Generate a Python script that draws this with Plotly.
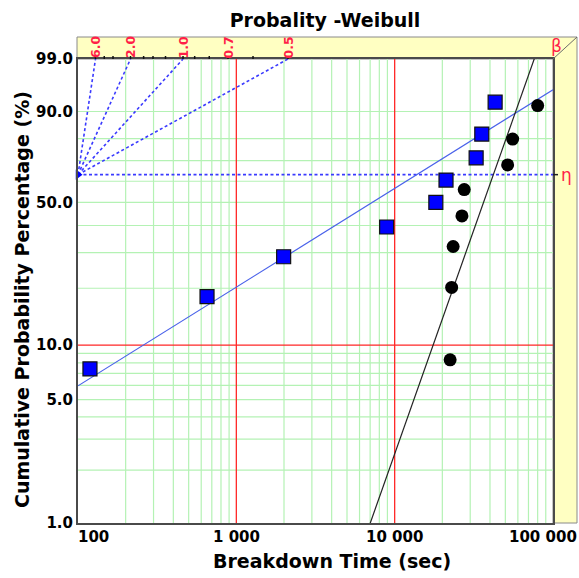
import numpy as np
import plotly.graph_objects as go

# ---------------- data ----------------
blue_time = [119, 653, 1990, 8900, 18200, 21100, 32700, 35500, 43100]
blue_pct = [7.4, 18.1, 28.7, 39.4, 50.0, 60.6, 71.3, 81.9, 92.6]

black_time = [22400, 22900, 23400, 26600, 27500, 51700, 55600, 80000]
black_pct = [8.3, 20.2, 32.1, 44.0, 56.0, 67.9, 79.8, 91.7]

blue_eta, blue_beta = 13800, 0.566
black_eta, black_beta = 42000, 2.57

beta_lines = [6.0, 2.0, 1.0, 0.5]
beta_labels = [6.0, 2.0, 1.0, 0.7, 0.5]
beta_ticks = [6.0, 4.0, 3.0, 2.0, 1.6, 1.4, 1.2, 1.0, 0.9, 0.8, 0.7, 0.6, 0.5]

y_tick_pct = [1, 5, 10, 50, 90, 99]
y_tick_text = ["1.0", "5.0", "10.0", "50.0", "90.0", "99.0"]
y_grid_pct = [2, 3, 4, 5, 6, 7, 8, 9, 20, 30, 40, 50, 60, 70, 80, 90]
y_red_pct = [10]

x_tick_vals = [100, 1000, 10000, 100000]
x_tick_text = ["100", "1 000", "10 000", "100 000"]
x_red = [1000, 10000]
x_grid_mult = [2, 3, 4, 5, 6, 7, 8, 9]
x_decades = [100, 1000, 10000]

title_text = "Probality -Weibull"
x_title = "Breakdown Time (sec)"
y_title = "Cumulative Probability Percentage (%)"

# ---------------- helpers ----------------
def wt(p):
    p = np.asarray(p, dtype=float) / 100.0
    return np.log(-np.log(1.0 - p))

W = 579
H = 578
ML, MR, MT, MB = 78, 26, 59, 55
PW = W - ML - MR
PH = H - MT - MB

def px_x(px):
    return (px - ML) / PW

def px_y(py):
    return (H - MB - py) / PH

ymin, ymax = float(wt(1)), float(wt(99))
xmin, xmax = x_tick_vals[0], x_tick_vals[-1]
lxmin, lxmax = np.log10(xmin), np.log10(xmax)

def paper_from_t(t):
    return (np.log10(t) - lxmin) / (lxmax - lxmin)

FONT = "DejaVu Sans"
GREEN = "#b4f2b4"
RED = "#ff2626"
BLUE_D = "#3a3aff"
DASH = "3px,2.5px"
LABEL_RED = "#ff1f48"

fig = go.Figure()

# vertical green grid lines
gx, gy = [], []
for d in x_decades:
    for m in x_grid_mult:
        gx += [d * m, d * m, None]
        gy += [ymin, ymax, None]
# horizontal green grid lines
for p in y_grid_pct:
    w = float(wt(p))
    gx += [xmin, xmax, None]
    gy += [w, w, None]
fig.add_trace(go.Scatter(x=gx, y=gy, mode="lines", line=dict(color=GREEN, width=1.2),
                         hoverinfo="skip", showlegend=False))

# red lines
rx, ry = [], []
for t in x_red:
    rx += [t, t, None]
    ry += [ymin, ymax, None]
for p in y_red_pct:
    w = float(wt(p))
    rx += [xmin, xmax, None]
    ry += [w, w, None]
fig.add_trace(go.Scatter(x=rx, y=ry, mode="lines", line=dict(color=RED, width=1.3),
                         hoverinfo="skip", showlegend=False))

# beta reference lines from origin (xmin, eta level)
bx, by = [], []
for b in beta_lines:
    t_end = xmin * np.exp(ymax / b)
    bx += [xmin, t_end, None]
    by += [0.0, ymax, None]
fig.add_trace(go.Scatter(x=bx, y=by, mode="lines",
                         line=dict(color=BLUE_D, width=1.6, dash=DASH),
                         hoverinfo="skip", showlegend=False))
# eta line
fig.add_trace(go.Scatter(x=[xmin, xmax], y=[0.0, 0.0], mode="lines",
                         line=dict(color=BLUE_D, width=1.6, dash=DASH),
                         hoverinfo="skip", showlegend=False))

# fit lines
def fit_line(eta, beta):
    t = np.array([xmin, xmax], dtype=float)
    return t, beta * np.log(t / eta)

t1, w1 = fit_line(blue_eta, blue_beta)
fig.add_trace(go.Scatter(x=t1, y=w1, mode="lines", line=dict(color="#4a62ea", width=1.2),
                         hoverinfo="skip", showlegend=False))
t2, w2 = fit_line(black_eta, black_beta)
fig.add_trace(go.Scatter(x=t2, y=w2, mode="lines", line=dict(color="#222222", width=1.2),
                         hoverinfo="skip", showlegend=False))

# data markers
fig.add_trace(go.Scatter(x=blue_time, y=wt(blue_pct), mode="markers",
                         marker=dict(symbol="square", size=14, color="#0000ff",
                                     line=dict(color="#111111", width=1.2)),
                         showlegend=False, cliponaxis=False))
fig.add_trace(go.Scatter(x=black_time, y=wt(black_pct), mode="markers",
                         marker=dict(symbol="circle", size=13, color="#000000",
                                     line=dict(color="#000000", width=0)),
                         showlegend=False, cliponaxis=False))

# origin marker
fig.add_trace(go.Scatter(x=[xmin], y=[0.0], mode="markers",
                         marker=dict(symbol="triangle-right", size=9, color="#0000ff"),
                         showlegend=False, cliponaxis=False, hoverinfo="skip"))

shapes = []
# yellow frame (top band + right band)
xl, xr = px_x(77), px_x(577)
yt = px_y(37)
path = (f"M {xl},1 L {xl},{yt} L {xr},{yt} L {xr},0 L 1,0 L 1,1 Z")
shapes.append(dict(type="path", path=path, xref="paper", yref="paper",
                   fillcolor="#ffffc2", line=dict(color="#8a8a8a", width=1), layer="below"))
shapes.append(dict(type="line", xref="paper", yref="paper", x0=1, y0=1, x1=xr, y1=yt,
                   line=dict(color="#6a6a6a", width=1)))
# beta scale ticks on the top border
for b in beta_ticks:
    xp = paper_from_t(xmin * np.exp(ymax / b))
    shapes.append(dict(type="line", xref="paper", yref="paper", x0=xp, x1=xp,
                       y0=1, y1=1 + 3 / PH, line=dict(color="#111111", width=1.5)))
# eta tick on right border
shapes.append(dict(type="line", xref="paper", yref="y", x0=1, x1=1 + 5 / PW, y0=0, y1=0,
                   line=dict(color="#222222", width=1.5)))

annotations = []
for b in beta_labels:
    xp = paper_from_t(xmin * np.exp(ymax / b))
    annotations.append(dict(text=f"{b:.1f}", xref="paper", yref="paper", x=xp, y=px_y(47.5),
                            textangle=-90, showarrow=False, xanchor="center", yanchor="middle",
                            font=dict(family=FONT, size=12.5, color=LABEL_RED, weight="bold")))
annotations.append(dict(text="β", xref="paper", yref="paper", x=px_x(556), y=px_y(46),
                        xanchor="center", yanchor="middle",
                        showarrow=False, font=dict(family=FONT, size=17, color=LABEL_RED)))
annotations.append(dict(text="η", xref="paper", yref="y", x=px_x(566), y=0,
                        xanchor="center", yanchor="middle",
                        showarrow=False, font=dict(family=FONT, size=17, color=LABEL_RED)))

# x tick labels
for i, (v, txt) in enumerate(zip(x_tick_vals, x_tick_text)):
    xp = paper_from_t(v)
    anchor = "center"
    if i == 0:
        anchor = "left"
        xp = px_x(76)
    elif i == len(x_tick_vals) - 1:
        anchor = "right"
        xp = px_x(579)
    annotations.append(dict(text=txt, xref="paper", yref="paper", x=xp, y=px_y(537),
                            xanchor=anchor, yanchor="middle", showarrow=False,
                            font=dict(family=FONT, size=15, color="#000000", weight="bold")))

annotations.append(dict(text=x_title, xref="paper", yref="paper", x=px_x(332), y=px_y(561),
                        xanchor="center", yanchor="middle", showarrow=False,
                        font=dict(family=FONT, size=19, color="#000000", weight="bold")))
annotations.append(dict(text=y_title, xref="paper", yref="paper", x=px_x(22), y=px_y(300),
                        xanchor="center", yanchor="middle", showarrow=False, textangle=-90,
                        font=dict(family=FONT, size=19, color="#000000", weight="bold")))

fig.update_layout(
    width=W, height=H,
    margin=dict(l=ML, r=MR, t=MT, b=MB),
    paper_bgcolor="white", plot_bgcolor="white",
    title=dict(text=title_text, x=325 / W, y=1 - 20 / H, xanchor="center", yanchor="middle",
               font=dict(family=FONT, size=19, color="#000000", weight="bold")),
    shapes=shapes, annotations=annotations,
    xaxis=dict(type="log", range=[lxmin, lxmax], showgrid=False, zeroline=False,
               showline=True, mirror=True, linecolor="#4a4a4a", linewidth=2,
               showticklabels=False, ticks=""),
    yaxis=dict(range=[ymin, ymax], showgrid=False, zeroline=False,
               showline=True, mirror=True, linecolor="#4a4a4a", linewidth=2,
               tickvals=list(wt(y_tick_pct)), ticktext=y_tick_text, ticks="",
               ticklabelstandoff=0,
               tickfont=dict(family=FONT, size=15, color="#000000", weight="bold")),
    showlegend=False,
)

fig.write_html(
    "out.html",
    config={"displayModeBar": False},
    post_script="document.body.style.margin='0';document.body.style.overflow='hidden';",
)
